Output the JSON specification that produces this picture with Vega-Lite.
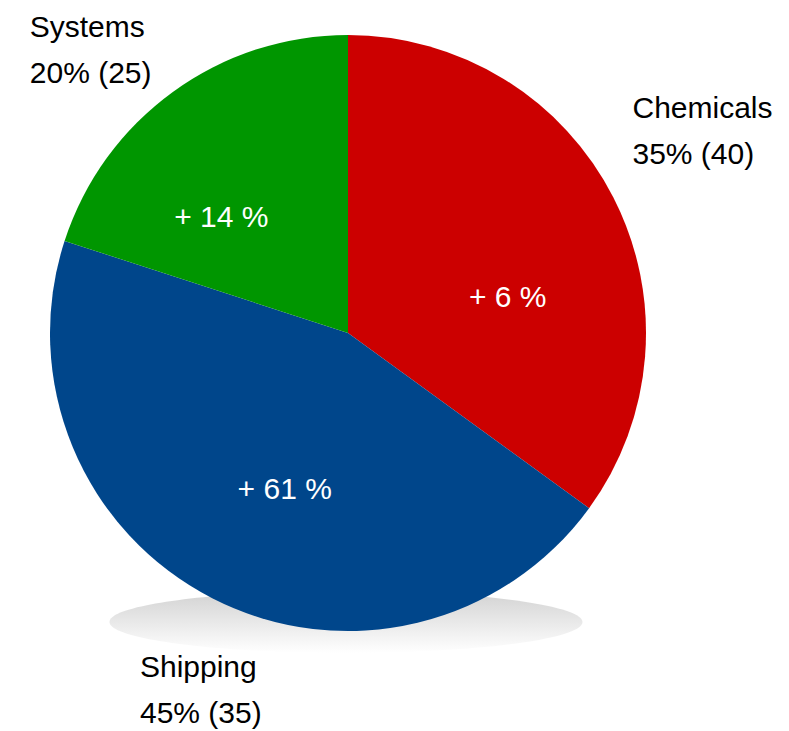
{
  "$schema": "https://vega.github.io/schema/vega-lite/v6.json",
  "width": 696,
  "height": 666,
  "autosize": {"type": "none"},
  "padding": {"left": 0, "top": 0, "right": 93, "bottom": 65},
  "background": "white",
  "config": {"view": {"stroke": null}},
  "data": {
    "values": [
      {"segment": "Chemicals", "share": 35, "prev": 40, "change": "+ 6 %", "label": "Chemicals\n35% (40)"},
      {"segment": "Shipping", "share": 45, "prev": 35, "change": "+ 61 %", "label": "Shipping\n45% (35)"},
      {"segment": "Systems", "share": 20, "prev": 25, "change": "+ 14 %", "label": "Systems\n20% (25)"}
    ]
  },
  "encoding": {
    "theta": {"field": "share", "type": "quantitative", "stack": true},
    "order": {"field": "segment", "sort": "ascending"}
  },
  "layer": [
    {
      "transform": [{"filter": "datum.segment === 'Chemicals'"}],
      "mark": {
        "type": "point",
        "shape": "M -1 0 A 1 0.131 0 1 0 1 0 A 1 0.131 0 1 0 -1 0 Z",
        "size": 223729,
        "filled": true,
        "opacity": 1,
        "strokeWidth": 0,
        "xOffset": -2,
        "yOffset": 289,
        "fill": {"gradient": "linear", "x1": 0, "y1": 0, "x2": 0, "y2": 1,
          "stops": [{"offset": 0, "color": "#d2d2d2"}, {"offset": 1, "color": "#ffffff"}]}
      },
      "encoding": {"theta": null, "order": null}
    },
    {
      "mark": {"type": "arc", "outerRadius": 298},
      "encoding": {
        "color": {
          "field": "segment", "type": "nominal",
          "scale": {"domain": ["Chemicals", "Shipping", "Systems"], "range": ["#cc0000", "#00468b", "#009600"]},
          "legend": null
        }
      }
    },
    {
      "mark": {"type": "text", "radius": 168, "dx": 10, "dy": 41, "font": "Liberation Sans", "fontSize": 30, "fill": "white", "align": "center", "baseline": "middle"},
      "encoding": {"text": {"condition": {"test": "datum.segment === 'Chemicals'", "field": "change"}, "value": ""}}
    },
    {
      "mark": {"type": "text", "radius": 168, "dx": 13, "dy": 7, "font": "Liberation Sans", "fontSize": 30, "fill": "white", "align": "center", "baseline": "middle"},
      "encoding": {"text": {"condition": {"test": "datum.segment === 'Shipping'", "field": "change"}, "value": ""}}
    },
    {
      "mark": {"type": "text", "radius": 168, "dx": -28, "dy": 21, "font": "Liberation Sans", "fontSize": 30, "fill": "white", "align": "center", "baseline": "middle"},
      "encoding": {"text": {"condition": {"test": "datum.segment === 'Systems'", "field": "change"}, "value": ""}}
    },
    {
      "mark": {"type": "text", "radius": 390, "dx": -63, "dy": -47, "font": "Liberation Sans", "fontSize": 30, "lineHeight": 46, "lineBreak": "\n", "fill": "black", "align": "left", "baseline": "middle"},
      "encoding": {"text": {"condition": {"test": "datum.segment === 'Chemicals'", "field": "label"}, "value": ""}}
    },
    {
      "mark": {"type": "text", "radius": 390, "dx": -31, "dy": -12, "font": "Liberation Sans", "fontSize": 30, "lineHeight": 46, "lineBreak": "\n", "fill": "black", "align": "left", "baseline": "middle"},
      "encoding": {"text": {"condition": {"test": "datum.segment === 'Shipping'", "field": "label"}, "value": ""}}
    },
    {
      "mark": {"type": "text", "radius": 390, "dx": -89, "dy": 11, "font": "Liberation Sans", "fontSize": 30, "lineHeight": 46, "lineBreak": "\n", "fill": "black", "align": "left", "baseline": "middle"},
      "encoding": {"text": {"condition": {"test": "datum.segment === 'Systems'", "field": "label"}, "value": ""}}
    }
  ]
}
